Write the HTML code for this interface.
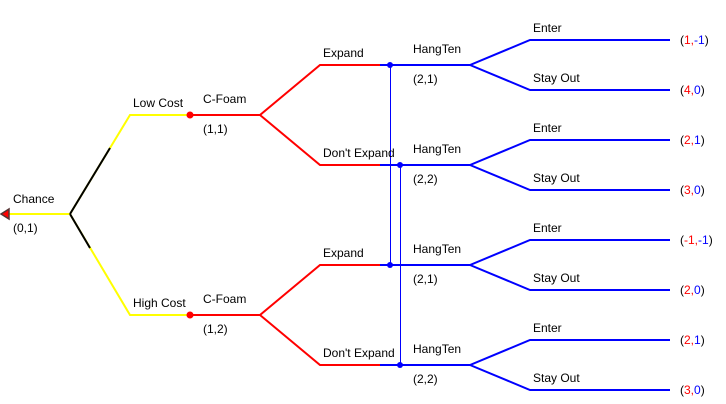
<!DOCTYPE html><html><head><style>body{margin:0;background:#fff}svg{display:block}text{font-family:"Liberation Sans",sans-serif;font-size:12px;fill:#000}</style></head><body>
<svg width="726" height="404" viewBox="0 0 726 404" xmlns="http://www.w3.org/2000/svg">
<g fill="none" stroke-width="2">
<path d="M5 214H70L130 115H190M70 214L130 315H190" stroke="#ffff00"/>
<path d="M70 214L110 148M70 214L90 248" stroke="#000"/>
<path d="M190 115H260L320 65H380M260 115L320 165H380M190 315H260L320 265H380M260 315L320 365H380" stroke="#ff0000"/>
<g stroke="#0000ff">
<path d="M380 65H470L530 40H670M470 65L530 90H670"/>
<path d="M380 165H470L530 140H670M470 165L530 190H670"/>
<path d="M380 265H470L530 240H670M470 265L530 290H670"/>
<path d="M380 365H470L530 340H670M470 365L530 390H670"/>
</g>
<path d="M390.5 65V265M400.5 165V365" stroke="#0000ff" stroke-width="1" shape-rendering="crispEdges"/>
</g>
<polygon points="1,214 9,209 9,219" fill="#ff0000" stroke="#553333" stroke-width="1.5"/>
<g fill="#ff0000"><circle cx="190" cy="115" r="3.5"/><circle cx="190" cy="315" r="3.5"/></g>
<g fill="#0000ff"><circle cx="390" cy="65" r="3"/><circle cx="400" cy="165" r="3"/><circle cx="390" cy="265" r="3"/><circle cx="400" cy="365" r="3"/></g>
<text x="13" y="203">Chance</text><text x="13" y="232">(0,1)</text>
<text x="133" y="107">Low Cost</text><text x="133" y="307">High Cost</text>
<text x="203" y="103">C-Foam</text><text x="203" y="133">(1,1)</text>
<text x="203" y="303">C-Foam</text><text x="203" y="333">(1,2)</text>
<text x="323" y="57">Expand</text><text x="323" y="157">Don't Expand</text>
<text x="323" y="257">Expand</text><text x="323" y="357">Don't Expand</text>
<text x="413" y="53">HangTen</text><text x="413" y="83">(2,1)</text>
<text x="413" y="153">HangTen</text><text x="413" y="183">(2,2)</text>
<text x="413" y="253">HangTen</text><text x="413" y="283">(2,1)</text>
<text x="413" y="353">HangTen</text><text x="413" y="383">(2,2)</text>
<text x="533" y="32">Enter</text><text x="533" y="82">Stay Out</text>
<text x="533" y="132">Enter</text><text x="533" y="182">Stay Out</text>
<text x="533" y="232">Enter</text><text x="533" y="282">Stay Out</text>
<text x="533" y="332">Enter</text><text x="533" y="382">Stay Out</text>
<text x="680" y="44">(<tspan fill="#f00">1,</tspan><tspan fill="#00f">-1</tspan>)</text>
<text x="680" y="94">(<tspan fill="#f00">4,</tspan><tspan fill="#00f">0</tspan>)</text>
<text x="680" y="144">(<tspan fill="#f00">2,</tspan><tspan fill="#00f">1</tspan>)</text>
<text x="680" y="194">(<tspan fill="#f00">3,</tspan><tspan fill="#00f">0</tspan>)</text>
<text x="680" y="244">(<tspan fill="#f00">-1,</tspan><tspan fill="#00f">-1</tspan>)</text>
<text x="680" y="294">(<tspan fill="#f00">2,</tspan><tspan fill="#00f">0</tspan>)</text>
<text x="680" y="344">(<tspan fill="#f00">2,</tspan><tspan fill="#00f">1</tspan>)</text>
<text x="680" y="394">(<tspan fill="#f00">3,</tspan><tspan fill="#00f">0</tspan>)</text>
</svg></body></html>
